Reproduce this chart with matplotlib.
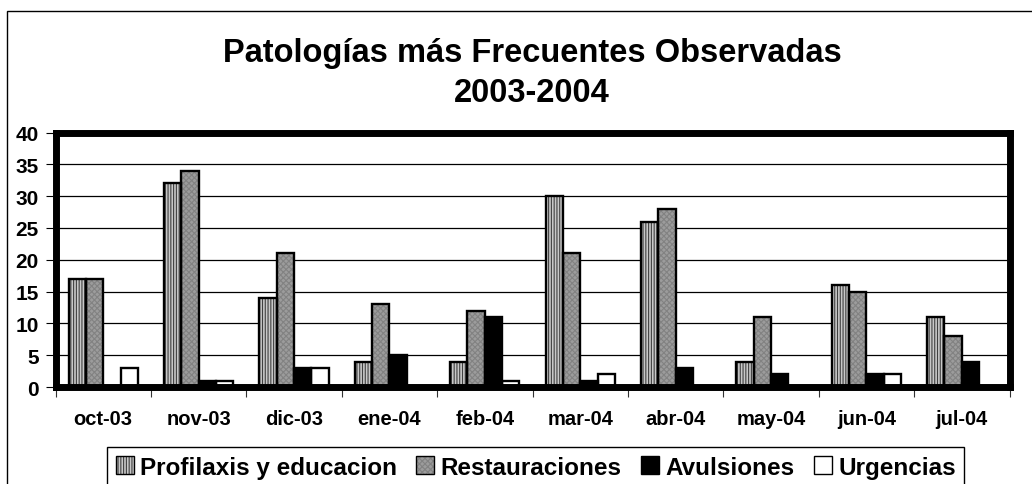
import matplotlib
matplotlib.use("Agg")
import matplotlib.pyplot as plt
from matplotlib.patches import Rectangle, Patch
from matplotlib.legend_handler import HandlerTuple
import numpy as np

plt.rcParams['font.family'] = ['Liberation Sans', 'DejaVu Sans']
plt.rcParams['font.weight'] = 'bold'
plt.rcParams['hatch.linewidth'] = 0.8

months = ["oct-03", "nov-03", "dic-03", "ene-04", "feb-04",
          "mar-04", "abr-04", "may-04", "jun-04", "jul-04"]
series_names = ["Profilaxis y educacion", "Restauraciones", "Avulsiones", "Urgencias"]
profilaxis = [17, 32, 14, 4, 4, 30, 26, 4, 16, 11]
restauraciones = [17, 34, 21, 13, 12, 21, 28, 11, 15, 8]
avulsiones = [0, 1, 3, 5, 11, 1, 3, 2, 2, 4]
urgencias = [3, 1, 3, 0, 1, 2, 0, 0, 2, 0]

# fill colour, hatch, hatch colour for each series
styles = [
    ("#c8c8c8", "||||||", "#404040"),
    ("#9c9c9c", "xxxxxx", "#828282"),
    ("black", None, "black"),
    ("white", None, "white"),
]

fig = plt.figure(figsize=(10.32, 4.85), dpi=100)
W, H = 1032, 485

# chart border (runs off the right/bottom edge like the original)
fig.patches.append(Rectangle((7 / W, -0.05), 1.1, 1 - 12 / H + 0.05,
                             transform=fig.transFigure, fill=False,
                             edgecolor="black", lw=1.0, zorder=0))

ax = fig.add_axes([55.5 / W, 1 - 388 / H, (1009.5 - 55.5) / W, (388 - 133.5) / H])

x = np.arange(len(months))
w = 1 / 5.5
all_vals = [profilaxis, restauraciones, avulsiones, urgencias]
handles = []
for k, (vals, name, (fc, hatch, hc)) in enumerate(zip(all_vals, series_names, styles)):
    pos = x + (k - 1.5) * w
    ax.bar(pos, vals, w, color=fc, hatch=hatch, edgecolor=hc, linewidth=0, zorder=2)
    ax.bar(pos, vals, w, fill=False, edgecolor="black", linewidth=1.7, zorder=3)
    h1 = Patch(facecolor=fc, hatch=hatch, edgecolor=hc, linewidth=0)
    h2 = Patch(fill=False, edgecolor="black", linewidth=1.0)
    handles.append((h1, h2))

ax.set_xlim(-0.5, len(months) - 0.5)
ax.set_ylim(0, 40)
ax.set_yticks(range(0, 41, 5))
ax.yaxis.grid(True, color="black", lw=0.9, zorder=1)
ax.set_axisbelow(True)

for s in ax.spines.values():
    s.set_linewidth(5)
    s.set_color("black")
    s.set_zorder(4)

ax.set_xticks(np.arange(-0.5, len(months), 1))
ax.set_xticklabels([])
ax.set_xticks(x, minor=True)
ax.set_xticklabels(months, minor=True, fontsize=14.5, fontweight="bold")
ax.tick_params(axis="x", which="major", length=7, width=0.8, color="#333333", direction="out")
ax.tick_params(axis="x", which="minor", length=0, pad=16)
ax.tick_params(axis="y", length=7, width=0.8, pad=5, labelsize=15)
for t in ax.get_yticklabels():
    t.set_fontweight("bold")

fig.text(532 / W, 1 - 62 / H, "Patologías más Frecuentes Observadas",
         ha="center", va="baseline", fontsize=23.5, fontweight="bold")
fig.text(532 / W, 1 - 102 / H, "2003-2004",
         ha="center", va="baseline", fontsize=23.5, fontweight="bold")

leg = fig.legend(handles, series_names, handler_map={tuple: HandlerTuple(ndivide=1)},
                 loc="upper left", bbox_to_anchor=(107 / W, 1 - 448 / H),
                 bbox_transform=fig.transFigure, borderaxespad=0, ncol=4,
                 prop={"size": 17.5, "weight": "bold"},
                 handlelength=0.75, handleheight=0.75, handletextpad=0.25,
                 columnspacing=0.8, borderpad=0.35, fancybox=False, framealpha=1)
leg.get_frame().set_edgecolor("black")
leg.get_frame().set_linewidth(1.0)

fig.savefig("out.png", dpi=100)
